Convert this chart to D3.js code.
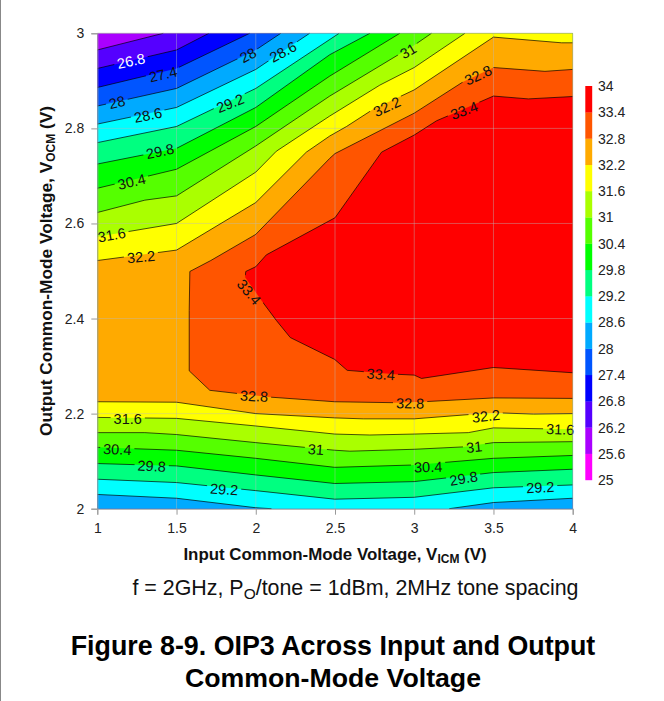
<!DOCTYPE html>
<html><head><meta charset="utf-8">
<style>html,body{margin:0;padding:0;background:#fff}svg{display:block}text{font-family:"Liberation Sans",Arial,sans-serif;fill:#111}</style>
<script src="https://cdn.jsdelivr.net/npm/d3@7"></script></head><body>
<script>
const xTicks=[1,1.5,2,2.5,3,3.5,4];
const yTicks=[2,2.2,2.4,2.6,2.8,3];
const levels=[25,25.6,26.2,26.8,27.4,28,28.6,29.2,29.8,30.4,31,31.6,32.2,32.8,33.4,34];
const bandColors=["#ff00ff","#aa00ff","#5500ff","#0000ff","#0055ff","#00aaff","#00ffff","#00ff80","#00ff00","#55ff00","#aaff00","#ffff00","#ffaa00","#ff5500","#ff0000"];

const upper262=[[1,2.965],[1.416,3]];
const upper268=[[1,2.926],[1.5,2.965],[1.704,3]];
const upper274=[[1,2.886],[1.5,2.926],[1.962,3]];
const upper280=[[1,2.847],[1.5,2.884],[2,2.965],[2.158,3]];
const upper286=[[1,2.809],[1.5,2.844],[2,2.924],[2.34,3]];
const upper292=[[1,2.77],[1.5,2.804],[2,2.884],[2.526,3]];
const upper298=[[1,2.725],[1.5,2.758],[2,2.844],[2.467,2.955],[2.72,3]];
const upper304=[[1,2.674],[1.5,2.714],[2,2.804],[2.467,2.91],[2.909,3]];
const upper310=[[1,2.623],[1.3,2.649],[1.5,2.658],[2,2.763],[2.467,2.868],[3,2.975],[3.109,3]];
const upper316=[[1,2.572],[1.5,2.6],[2,2.708],[2.13,2.752],[2.467,2.826],[2.783,2.891],[3,2.928],[3.32,3]];
const upper322=[[1,2.522],[1.5,2.544],[2,2.644],[2.319,2.75],[2.467,2.784],[2.573,2.804],[2.74,2.84],[3,2.881],[3.5,2.992],[3.93,2.98],[4,2.98]];
const upper328=[[1.584,2.499],[1.716,2.522],[2,2.577],[2.467,2.737],[2.5,2.747],[3,2.832],[3.309,2.898],[3.5,2.928],[3.825,2.92],[4,2.924]];
const upper334=[[1.937,2.499],[2,2.509],[2.067,2.534],[2.5,2.612],[2.794,2.75],[3,2.786],[3.141,2.816],[3.225,2.828],[3.5,2.868],[3.72,2.862],[4,2.867]];

const lower286a=[[1,2.03],[1.5,2.022],[2,2.002],[2.099,2]];
const lower286b=[[3.221,2],[3.5,2.013],[4,2.022]];
const lower292=[[1,2.062],[1.5,2.055],[2,2.038],[2.498,2.02],[3,2.024],[3.5,2.044],[4,2.05]];
const lower298=[[1,2.095],[1.5,2.09],[2,2.071],[2.498,2.053],[3,2.057],[3.5,2.076],[4,2.083]];
const lower304=[[1,2.129],[1.5,2.123],[2,2.106],[2.498,2.087],[3,2.092],[3.5,2.106],[4,2.112]];
const lower310=[[1,2.16],[1.3,2.16],[1.5,2.156],[2,2.139],[2.498,2.123],[2.594,2.121],[3,2.125],[3.309,2.13],[3.5,2.139],[4,2.141]];
const lower316=[[1,2.192],[1.5,2.19],[2,2.174],[2.498,2.157],[2.72,2.155],[3,2.157],[3.341,2.16],[3.5,2.17],[4,2.167]];
const lower322=[[1,2.225],[1.5,2.224],[2,2.2],[2.498,2.191],[2.678,2.189],[3,2.189],[3.5,2.202],[3.752,2.199],[4,2.2]];
const lower328=[[1.584,2.499],[1.58,2.417],[1.58,2.29],[1.71,2.249],[2.078,2.235],[2.498,2.225],[2.867,2.223],[3.057,2.225],[3.5,2.233],[4,2.232]];
const lower334=[[1.937,2.499],[1.933,2.487],[2.036,2.438],[2.13,2.396],[2.218,2.36],[2.498,2.314],[2.577,2.291],[2.878,2.283],[3,2.281],[3.046,2.274],[3.5,2.297],[4,2.286]];

const labelTexts=["26.8","27.4","28","28","28.6","28.6","29.2","29.8","30.4","31.6","32.2","31","32.2","32.8","33.4","33.4","32.8","31.6","31","30.4","29.8","29.2","33.4","32.8","32.2","31.6","31","30.4","29.8","29.2"];
const labelX=[1.213,1.415,1.124,1.951,2.172,1.32,1.838,1.396,1.217,1.091,1.276,2.962,2.827,3.403,3.315,1.958,1.989,1.192,2.379,1.126,1.343,1.8,2.789,2.974,3.452,3.921,3.378,3.088,3.311,3.795];
const labelY=[2.942,2.914,2.855,2.954,2.961,2.828,2.853,2.752,2.688,2.576,2.53,2.963,2.846,2.912,2.838,2.456,2.237,2.189,2.125,2.125,2.09,2.041,2.283,2.222,2.195,2.167,2.13,2.088,2.064,2.045];
const labelAngle=[-12,-13,-13,-28,-28,-12,-22,-12,-13,-10,-5,-30,-25,-25,-20,50,3,0,4,2,3,4,4,1,-6,2,-6,-2,-10,-3];

const bands=[
 {u:upper262,l:[]},{u:upper268,l:[]},{u:upper274,l:[]},{u:upper280,l:[]},
 {u:upper286,l:[lower286a,lower286b]},{u:upper292,l:[lower292]},{u:upper298,l:[lower298]},
 {u:upper304,l:[lower304]},{u:upper310,l:[lower310]},{u:upper316,l:[lower316]},
 {u:upper322,l:[lower322]},{u:upper328,l:[lower328]},{u:upper334,l:[lower334]}];
const baseColor=bandColors[1];
const fillColors=bandColors.slice(2);

const svg=d3.select("body").append("svg").attr("width",664).attr("height",701);
const L=97.3,R=572.7,T=33.3,B=508.7;
const x=d3.scaleLinear().domain([1,4]).range([L,R]);
const y=d3.scaleLinear().domain([2,3]).range([B,T]);
const line=d3.line().x(d=>x(d[0])).y(d=>y(d[1]));

svg.append("line").attr("x1",.5).attr("x2",.5).attr("y1",0).attr("y2",701).attr("stroke","#888");

const plot=svg.append("g");
plot.append("rect").attr("x",x(1)).attr("y",y(3)).attr("width",x(4)-x(1)).attr("height",y(2)-y(3)).attr("fill",baseColor);
bands.forEach((b,i)=>{
  let poly=b.u.slice();
  if(b.u[b.u.length-1][1]===3) poly.push([4,3]);
  if(b.l.length===0){poly.push([4,2],[1,2]);}
  else{[...b.l].reverse().forEach(p=>{poly=poly.concat(p.slice().reverse());});}
  plot.append("path").attr("d",line(poly)+"Z").attr("fill",fillColors[i]);
});

// grid
const grid=svg.append("g").attr("stroke","#bbb").attr("stroke-opacity",.42).attr("stroke-width",1);
xTicks.slice(1,-1).forEach(v=>grid.append("line").attr("x1",x(v)).attr("x2",x(v)).attr("y1",y(2)).attr("y2",y(3)));
yTicks.slice(1,-1).forEach(v=>grid.append("line").attr("x1",x(1)).attr("x2",x(4)).attr("y1",y(v)).attr("y2",y(v)));

// contour lines, with gaps under the labels
const defs=svg.append("defs");
const mask=defs.append("mask").attr("id","gaps").attr("maskUnits","userSpaceOnUse").attr("x",0).attr("y",0).attr("width",664).attr("height",701);
mask.append("rect").attr("width",664).attr("height",701).attr("fill","#fff");
const lines=svg.append("g").attr("mask","url(#gaps)").attr("fill","none").attr("stroke","#000").attr("stroke-width",.8).attr("stroke-opacity",.85);
bands.forEach(b=>{
  lines.append("path").attr("d",line(b.u));
  b.l.forEach(p=>lines.append("path").attr("d",line(p)));
});
labelTexts.forEach((t,i)=>{
  const px=x(labelX[i]),py=y(labelY[i]);
  const el=svg.append("text").attr("transform",`translate(${px},${py}) rotate(${labelAngle[i]})`)
    .attr("text-anchor","middle").attr("dy","0.36em").attr("font-size",14.5)
    .style("fill",t==="26.8"&&i===0?"#fff":"#111").text(t);
  const w=el.node().getComputedTextLength()+6;
  mask.append("rect").attr("x",-w/2).attr("y",-8).attr("width",w).attr("height",16).attr("fill","#000")
    .attr("transform",`translate(${px},${py}) rotate(${labelAngle[i]})`);
});

// axes
const axisB=svg.append("g").attr("transform",`translate(0,${B})`).call(d3.axisBottom(x).tickValues(xTicks).tickSize(6).tickPadding(8).tickFormat(d3.format("~g")));
const axisL=svg.append("g").attr("transform",`translate(${L},0)`).call(d3.axisLeft(y).tickValues(yTicks).tickSize(6).tickPadding(7).tickFormat(d3.format("~g")));
[axisB,axisL].forEach(a=>{
  a.selectAll("path,line").attr("stroke","#999");
  a.selectAll("text").attr("font-size",14).attr("font-family",null).style("fill","#222");
});
axisB.select(".domain").attr("stroke","#999");
svg.append("line").attr("x1",R).attr("x2",R).attr("y1",T).attr("y2",B).attr("stroke","#999").attr("stroke-opacity",.6);
svg.append("line").attr("x1",L).attr("x2",R).attr("y1",T).attr("y2",T).attr("stroke","#999").attr("stroke-opacity",.6);

// legend
const ly=d3.scaleLinear().domain([25,34]).range([480,86]);
const lg=svg.append("g");
bandColors.forEach((c,i)=>{
  lg.append("rect").attr("x",585.3).attr("width",6.9).attr("y",ly(levels[i+1])).attr("height",ly(levels[i])-ly(levels[i+1])+.2).attr("fill",c);
});
levels.forEach(v=>{
  lg.append("text").attr("x",598).attr("y",ly(v)).attr("dy","0.36em").attr("font-size",14).style("fill","#222").text(d3.format("~g")(v));
});

// titles
const xt=svg.append("text").attr("x",335).attr("y",560).attr("text-anchor","middle").attr("font-size",16.9).attr("font-weight","bold");
xt.append("tspan").text("Input Common-Mode Voltage, V");
xt.append("tspan").attr("dy",3).attr("font-size",12).text("ICM");
xt.append("tspan").attr("dy",-3).text(" (V)");
const yt=svg.append("text").attr("transform","translate(52,271) rotate(-90)").attr("text-anchor","middle").attr("font-size",17.3).attr("font-weight","bold");
yt.append("tspan").text("Output Common-Mode Voltage, V");
yt.append("tspan").attr("dy",3).attr("font-size",12).text("OCM");
yt.append("tspan").attr("dy",-3).text(" (V)");
const cap=svg.append("text").attr("x",355.5).attr("y",595).attr("text-anchor","middle").attr("font-size",21.4);
cap.append("tspan").text("f = 2GHz, P");
cap.append("tspan").attr("dy",4).attr("font-size",15.5).text("O");
cap.append("tspan").attr("dy",-4).text("/tone = 1dBm, 2MHz tone spacing");
svg.append("text").attr("x",333).attr("y",655).attr("text-anchor","middle").attr("font-size",26.8).attr("font-weight","bold").style("fill","#000").text("Figure 8-9. OIP3 Across Input and Output");
svg.append("text").attr("x",333).attr("y",687).attr("text-anchor","middle").attr("font-size",26.7).attr("font-weight","bold").style("fill","#000").text("Common-Mode Voltage");
</script></body></html>
